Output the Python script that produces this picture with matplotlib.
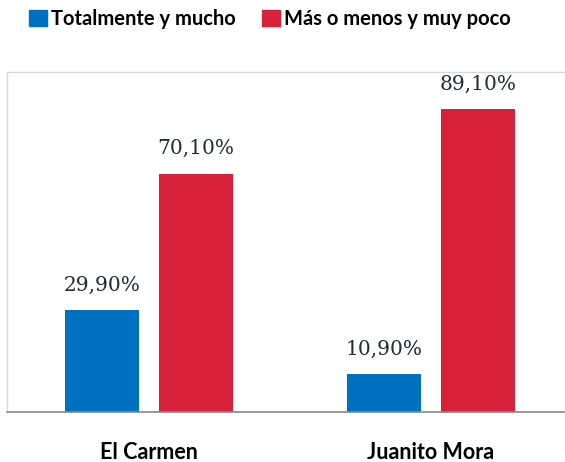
import numpy as np
from matplotlib import pyplot as plt
from matplotlib.patches import Patch

# data
categories = ['El Carmen', 'Juanito Mora']
series_names = ['Totalmente y mucho', 'Más o menos y muy poco']
totalmente = [29.9, 10.9]
mas_o_menos = [70.1, 89.1]
colors = ['#0070C0', '#D7213B']

fig = plt.figure(figsize=(5.65, 4.62), dpi=100)
# axes runs from x=7 px to the right edge, y from 72 px to 411.5 px
ax = fig.add_axes([7 / 565, (462 - 411.5) / 462, 558 / 565, 339.5 / 462])

x = np.arange(len(categories))
width = 0.262
offset = 0.1667
for vals, col, dx in [(totalmente, colors[0], -offset), (mas_o_menos, colors[1], offset)]:
    bars = ax.bar(x + dx, vals, width, color=col, zorder=2)
    for b, v in zip(bars, vals):
        ax.annotate(f'{v:.2f}%'.replace('.', ','),
                    (b.get_x() + b.get_width() / 2, v),
                    xytext=(0, 11), textcoords='offset points',
                    ha='center', va='bottom', fontsize=14.5,
                    family='DejaVu Serif', color='#1F2A3A')

ax.set_xlim(-0.503, 1.475)
ax.set_ylim(0, 100)
ax.set_yticks([])
ax.set_xticks(x)
ax.set_xticklabels(categories, fontsize=15.5, fontweight='bold', family='Lato')
ax.tick_params(axis='x', length=0, pad=22)

for side in ['top', 'left']:
    ax.spines[side].set_color('#D9D9D9')
    ax.spines[side].set_linewidth(1)
ax.spines['right'].set_visible(False)
ax.spines['bottom'].set_color('#868686')
ax.spines['bottom'].set_linewidth(1.2)

handles = [Patch(color=c) for c in colors]
fig.legend(handles, series_names, loc='center', bbox_to_anchor=(270 / 565, 1 - 19 / 462),
           ncol=2, frameon=False, handlelength=0.9, handleheight=0.9,
           handletextpad=0.2, columnspacing=1.3,
           prop={'family': 'Lato', 'weight': 'bold', 'size': 14.5})

fig.savefig('out.png', dpi=100)
